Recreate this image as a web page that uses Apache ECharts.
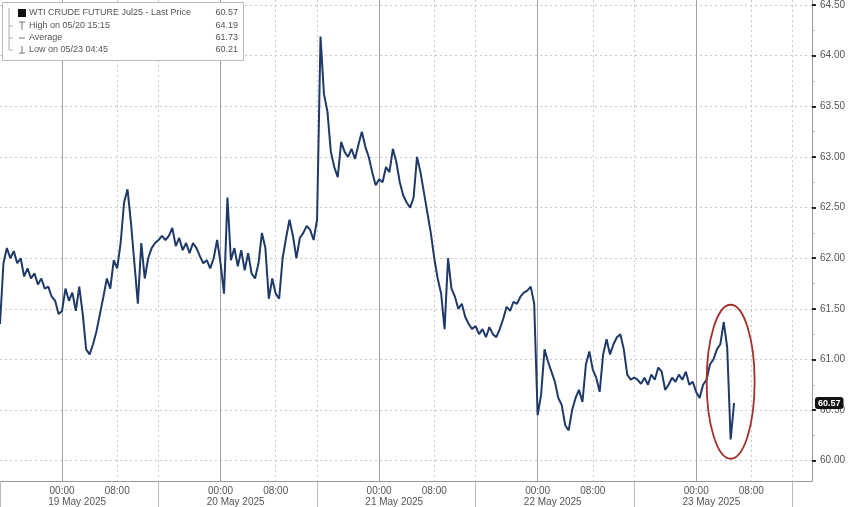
<!DOCTYPE html>
<html>
<head>
<meta charset="utf-8">
<script src="https://cdn.jsdelivr.net/npm/echarts/dist/echarts.min.js"></script>
<style>html,body{margin:0;padding:0;background:#fff}#c{width:848px;height:507px}</style>
</head>
<body>
<div id="c"></div>
<script>
// ---- data (x axis = trading hours since session open 18 May 15:00, breaks removed) ----
const stepHours = 0.5;
const prices = [
 61.35,61.95,62.10,62.00,62.07,61.95,62.00,61.82,61.90,61.80,61.85,61.74,61.80,61.70,61.72,61.62,61.58,61.45,61.48,61.70,
 61.58,61.66,61.48,61.72,61.45,61.10,61.05,61.15,61.28,61.45,61.62,61.80,61.70,61.98,61.90,62.15,62.55,62.68,62.35,61.95,
 61.55,62.15,61.80,62.00,62.10,62.15,62.18,
 62.22,62.18,62.22,62.30,62.12,62.20,62.08,62.15,62.05,62.15,62.10,62.02,61.95,61.98,61.90,62.00,62.18,61.95,61.65,62.60,
 61.98,62.10,61.92,62.08,61.88,62.05,61.85,61.80,61.95,62.25,62.10,61.60,61.80,61.65,61.60,62.00,62.20,62.38,62.22,62.00,
 62.20,62.25,62.32,62.28,62.18,62.38,
 64.19,63.62,63.45,63.05,62.90,62.80,63.15,63.05,63.00,63.08,62.98,63.12,63.25,63.10,63.00,62.85,62.72,62.78,62.75,62.90,
 62.85,63.08,62.95,62.75,62.62,62.55,62.50,62.60,63.00,62.85,62.65,62.45,62.25,62.00,61.80,61.65,61.30,62.00,61.70,61.62,
 61.50,61.55,61.42,61.35,61.30,61.33,
 61.25,61.30,61.22,61.32,61.25,61.22,61.30,61.40,61.52,61.48,61.57,61.55,61.62,61.66,61.68,61.72,61.55,60.45,60.65,61.10,
 60.98,60.88,60.78,60.62,60.55,60.35,60.30,60.50,60.62,60.70,60.58,60.95,61.08,60.90,60.82,60.68,61.05,61.20,61.05,61.15,
 61.22,61.25,61.10,60.85,60.80,60.82,
 60.80,60.76,60.82,60.75,60.85,60.80,60.92,60.88,60.70,60.75,60.82,60.78,60.85,60.80,60.88,60.75,60.78,60.68,60.62,60.75,
 60.80,60.95,61.00,61.10,61.15,61.37,61.12,60.21,60.57
];
const xMax = 117.8;
const midnightTicks = [9, 32, 55, 78, 101];
const timeLabelTicks = [9, 17, 32, 40, 55, 63, 78, 86, 101, 109];
const timeLabels = ['00:00','08:00','00:00','08:00','00:00','08:00','00:00','08:00','00:00','08:00'];
const dottedTicks = [17, 23, 40, 46, 63, 69, 86, 92, 109, 115];
const sessionBreaks = [0, 23, 46, 69, 92, 115];
const dateAnchors = [7, 30, 53, 76, 99];
const dateLabels = ['19 May 2025','20 May 2025','21 May 2025','22 May 2025','23 May 2025'];
const yTicks = [60, 60.5, 61, 61.5, 62, 62.5, 63, 63.5, 64, 64.5];
const yMinorTicks = [60.25, 60.75, 61.25, 61.75, 62.25, 62.75, 63.25, 63.75, 64.25];
const lastPrice = 60.57;
const legendRows = [
  ['WTI CRUDE FUTURE Jul25 - Last Price', '60.57'],
  ['High on 05/20 15:15', '64.19'],
  ['Average', '61.73'],
  ['Low on 05/23 04:45', '60.21']
];
const highlightCenter = [106, 60.78];

// ---- chart ----
const chart = echarts.init(document.getElementById('c'), null, {renderer: 'canvas'});
const FONT = 'Liberation Sans';
const baseX = {type: 'value', min: 0, max: xMax, gridIndex: 0, position: 'bottom',
  axisLine: {show: false, onZero: false}, axisTick: {show: false}, axisLabel: {show: false}, splitLine: {show: false}};

const option = {
  animation: false,
  backgroundColor: '#fff',
  textStyle: {fontFamily: FONT},
  grid: {left: 0, right: 35, top: 0, bottom: 26, containLabel: false},
  xAxis: [
    Object.assign({}, baseX, {
      axisLine: {show: true, onZero: false, lineStyle: {color: '#999', width: 1}},
      axisTick: {show: false, customValues: midnightTicks},
      splitLine: {show: true, lineStyle: {color: '#a0a0a0', width: 1, type: 'solid'}},
      axisLabel: {show: true, customValues: timeLabelTicks, margin: 5, fontSize: 10, color: '#555',
        formatter: v => timeLabels[timeLabelTicks.indexOf(Math.round(v))] || ''}
    }),
    Object.assign({}, baseX, {
      axisTick: {show: false, customValues: dottedTicks},
      splitLine: {show: true, lineStyle: {color: '#c8c8c8', width: 1, type: [2, 3]}}
    }),
    Object.assign({}, baseX, {
      axisTick: {show: true, customValues: sessionBreaks, length: 26, inside: false, lineStyle: {color: '#bbb', width: 1}}
    }),
    Object.assign({}, baseX, {
      axisLabel: {show: true, customValues: dateAnchors, margin: 16, fontSize: 10, color: '#555', align: 'left',
        formatter: v => dateLabels[dateAnchors.indexOf(Math.round(v))] || ''}
    })
  ],
  yAxis: [
    {type: 'value', position: 'right', min: 59.8, max: 64.55,
      axisLine: {show: true, onZero: false, lineStyle: {color: '#999', width: 1}},
      axisTick: {show: true, customValues: yTicks, length: 4, inside: false, lineStyle: {color: '#222', width: 2}},
      axisLabel: {show: true, customValues: yTicks, margin: 8, fontSize: 10, color: '#555',
        formatter: v => v.toFixed(2)},
      splitLine: {show: true, lineStyle: {color: '#c8c8c8', width: 1, type: [2, 3]}}
    },
    {type: 'value', position: 'right', min: 59.8, max: 64.55,
      axisLine: {show: false, onZero: false},
      axisTick: {show: true, customValues: yMinorTicks, length: 3, inside: false, lineStyle: {color: '#bbb', width: 1}},
      axisLabel: {show: false}, splitLine: {show: false}
    }
  ],
  series: [{
    type: 'line',
    xAxisIndex: 0, yAxisIndex: 0,
    data: prices.map((p, i) => [i * stepHours, p]),
    showSymbol: false,
    clip: false,
    lineStyle: {color: '#1f3a68', width: 2},
    z: 5,
    markLine: {
      silent: true, symbol: ['none', 'none'], animation: false,
      data: [{yAxis: lastPrice}],
      lineStyle: {color: 'rgba(0,0,0,0)', width: 1, type: 'solid'},
      label: {show: true, position: 'end', distance: 3, formatter: () => lastPrice.toFixed(2),
        backgroundColor: '#111', color: '#fff', fontSize: 9, fontWeight: 'bold', opacity: 1,
        padding: [2, 3, 1, 3], borderRadius: 3, fontFamily: FONT}
    }
  }]
};
chart.setOption(option);

// annotations
const rowY = [13, 26, 38, 50];
const g = [
  {type: 'rect', id: 'box', shape: {x: 2.5, y: 2.5, width: 241, height: 58}, style: {fill: '#fff', stroke: '#bbb', lineWidth: 1}, z: 100},
  {type: 'polyline', id: 'tree', shape: {points: [[9, 8], [9, 50], [13, 50]]}, style: {stroke: '#aaa', lineWidth: 1, fill: null}, z: 101},
  {type: 'polyline', id: 'tree2', shape: {points: [[9, 26], [13, 26]]}, style: {stroke: '#aaa', lineWidth: 1, fill: null}, z: 101},
  {type: 'polyline', id: 'tree3', shape: {points: [[9, 38], [13, 38]]}, style: {stroke: '#aaa', lineWidth: 1, fill: null}, z: 101},
  {type: 'rect', id: 'sq', shape: {x: 18, y: 9, width: 8, height: 8}, style: {fill: '#111'}, z: 101},
  {type: 'polyline', id: 'hi1', shape: {points: [[19, 22], [25, 22]]}, style: {stroke: '#777', lineWidth: 1, fill: null}, z: 101},
  {type: 'polyline', id: 'hi2', shape: {points: [[22, 22], [22, 30]]}, style: {stroke: '#777', lineWidth: 1, fill: null}, z: 101},
  {type: 'polyline', id: 'av', shape: {points: [[19, 38], [25, 38]]}, style: {stroke: '#777', lineWidth: 1, fill: null}, z: 101},
  {type: 'polyline', id: 'lo1', shape: {points: [[22, 46], [22, 53]]}, style: {stroke: '#777', lineWidth: 1, fill: null}, z: 101},
  {type: 'polyline', id: 'lo2', shape: {points: [[19, 53], [25, 53]]}, style: {stroke: '#777', lineWidth: 1, fill: null}, z: 101}
];
legendRows.forEach((r, i) => {
  g.push({type: 'text', id: 'lt' + i, x: 29, y: rowY[i], z: 101,
    style: {text: r[0], fill: '#555', font: '9px "' + FONT + '"', verticalAlign: 'middle', align: 'left'}});
  g.push({type: 'text', id: 'lv' + i, x: 238, y: rowY[i], z: 101,
    style: {text: r[1], fill: '#555', font: '9px "' + FONT + '"', verticalAlign: 'middle', align: 'right'}});
});
const c = chart.convertToPixel({gridIndex: 0}, highlightCenter);
g.push({type: 'ellipse', id: 'ell', shape: {cx: c[0], cy: c[1], rx: 24, ry: 77},
  style: {fill: null, stroke: '#a3302b', lineWidth: 1.8}, z: 50});
chart.setOption({graphic: g});
</script>
</body>
</html>
